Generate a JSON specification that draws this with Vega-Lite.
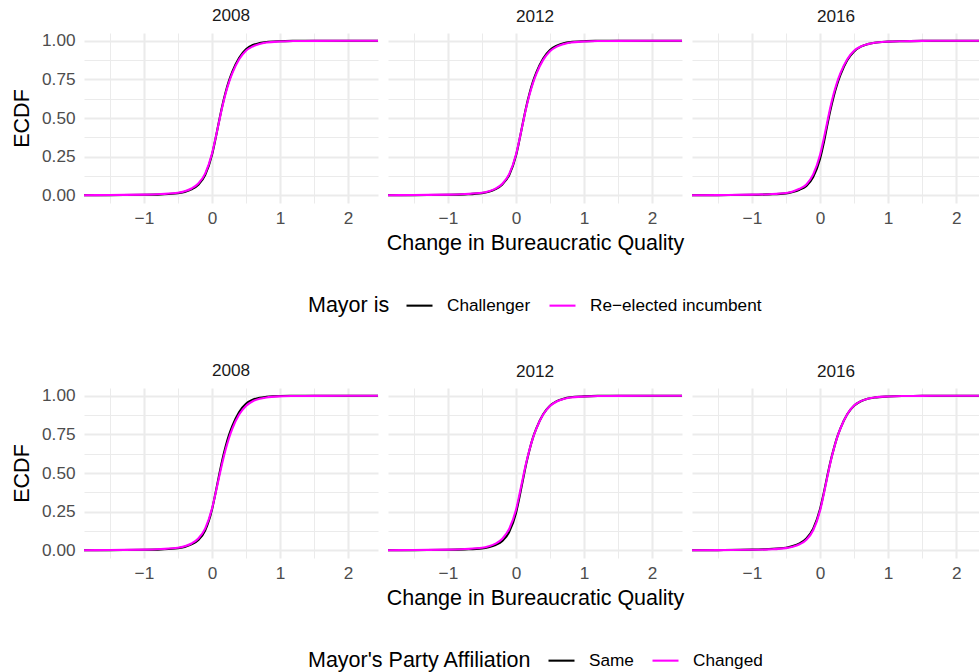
{
  "$schema": "https://vega.github.io/schema/vega-lite/v6.json",
  "background": "white",
  "padding": {"left": 11, "top": 6, "right": 0, "bottom": 0},
  "autosize": {"type": "pad"},
  "config": {
    "font": "Liberation Sans",
    "view": {"stroke": null},
    "title": {"fontSize": 17.2, "fontWeight": "normal", "color": "#1A1A1A", "offset": 8, "anchor": "middle", "frame": "group"},
    "axis": {"domain": false, "ticks": false, "labelColor": "#4D4D4D", "labelFontSize": 17.2, "titleFontSize": 21.5, "titleColor": "black", "titleFontWeight": "normal", "gridColor": "#EBEBEB", "labelPadding": 6, "labelFlush": false, "labelOverlap": false},
    "legend": {"orient": "bottom", "direction": "horizontal", "titleOrient": "left", "titleAnchor": "middle", "titleBaseline": "line-top", "titleLineHeight": 8, "titleFontSize": 21.5, "titleFontWeight": "normal", "titleColor": "black", "labelFontSize": 17.2, "labelColor": "black", "labelLimit": 1000, "titleLimit": 1000, "symbolType": "stroke", "symbolSize": 676, "symbolStrokeWidth": 2.1, "labelOffset": 13, "columnPadding": 14, "titlePadding": 15, "offset": 37, "layout": {"bottom": {"anchor": "middle"}}}
  },
  "datasets": {
    "d": [
      {"panel":"mayor","year":2008,"group":"Challenger","x":-1.88,"ecdf":0},
      {"panel":"mayor","year":2008,"group":"Challenger","x":-1.5,"ecdf":0.001},
      {"panel":"mayor","year":2008,"group":"Challenger","x":-1,"ecdf":0.003},
      {"panel":"mayor","year":2008,"group":"Challenger","x":-0.75,"ecdf":0.006},
      {"panel":"mayor","year":2008,"group":"Challenger","x":-0.5,"ecdf":0.013},
      {"panel":"mayor","year":2008,"group":"Challenger","x":-0.4,"ecdf":0.022},
      {"panel":"mayor","year":2008,"group":"Challenger","x":-0.3,"ecdf":0.038},
      {"panel":"mayor","year":2008,"group":"Challenger","x":-0.2,"ecdf":0.068},
      {"panel":"mayor","year":2008,"group":"Challenger","x":-0.1,"ecdf":0.13},
      {"panel":"mayor","year":2008,"group":"Challenger","x":0,"ecdf":0.26},
      {"panel":"mayor","year":2008,"group":"Challenger","x":0.05,"ecdf":0.36},
      {"panel":"mayor","year":2008,"group":"Challenger","x":0.1,"ecdf":0.47},
      {"panel":"mayor","year":2008,"group":"Challenger","x":0.15,"ecdf":0.575},
      {"panel":"mayor","year":2008,"group":"Challenger","x":0.2,"ecdf":0.665},
      {"panel":"mayor","year":2008,"group":"Challenger","x":0.25,"ecdf":0.74},
      {"panel":"mayor","year":2008,"group":"Challenger","x":0.3,"ecdf":0.8},
      {"panel":"mayor","year":2008,"group":"Challenger","x":0.4,"ecdf":0.89},
      {"panel":"mayor","year":2008,"group":"Challenger","x":0.5,"ecdf":0.945},
      {"panel":"mayor","year":2008,"group":"Challenger","x":0.6,"ecdf":0.972},
      {"panel":"mayor","year":2008,"group":"Challenger","x":0.7,"ecdf":0.985},
      {"panel":"mayor","year":2008,"group":"Challenger","x":0.8,"ecdf":0.992},
      {"panel":"mayor","year":2008,"group":"Challenger","x":1,"ecdf":0.997},
      {"panel":"mayor","year":2008,"group":"Challenger","x":1.2,"ecdf":0.999},
      {"panel":"mayor","year":2008,"group":"Challenger","x":1.5,"ecdf":1},
      {"panel":"mayor","year":2008,"group":"Challenger","x":2,"ecdf":1},
      {"panel":"mayor","year":2008,"group":"Challenger","x":2.44,"ecdf":1},
      {"panel":"mayor","year":2008,"group":"Re−elected incumbent","x":-1.88,"ecdf":0},
      {"panel":"mayor","year":2008,"group":"Re−elected incumbent","x":-1.5,"ecdf":0.002},
      {"panel":"mayor","year":2008,"group":"Re−elected incumbent","x":-1,"ecdf":0.004},
      {"panel":"mayor","year":2008,"group":"Re−elected incumbent","x":-0.75,"ecdf":0.008},
      {"panel":"mayor","year":2008,"group":"Re−elected incumbent","x":-0.5,"ecdf":0.016},
      {"panel":"mayor","year":2008,"group":"Re−elected incumbent","x":-0.4,"ecdf":0.026},
      {"panel":"mayor","year":2008,"group":"Re−elected incumbent","x":-0.3,"ecdf":0.044},
      {"panel":"mayor","year":2008,"group":"Re−elected incumbent","x":-0.2,"ecdf":0.076},
      {"panel":"mayor","year":2008,"group":"Re−elected incumbent","x":-0.1,"ecdf":0.14},
      {"panel":"mayor","year":2008,"group":"Re−elected incumbent","x":0,"ecdf":0.268},
      {"panel":"mayor","year":2008,"group":"Re−elected incumbent","x":0.05,"ecdf":0.364},
      {"panel":"mayor","year":2008,"group":"Re−elected incumbent","x":0.1,"ecdf":0.467},
      {"panel":"mayor","year":2008,"group":"Re−elected incumbent","x":0.15,"ecdf":0.568},
      {"panel":"mayor","year":2008,"group":"Re−elected incumbent","x":0.2,"ecdf":0.657},
      {"panel":"mayor","year":2008,"group":"Re−elected incumbent","x":0.25,"ecdf":0.73},
      {"panel":"mayor","year":2008,"group":"Re−elected incumbent","x":0.3,"ecdf":0.79},
      {"panel":"mayor","year":2008,"group":"Re−elected incumbent","x":0.4,"ecdf":0.88},
      {"panel":"mayor","year":2008,"group":"Re−elected incumbent","x":0.5,"ecdf":0.935},
      {"panel":"mayor","year":2008,"group":"Re−elected incumbent","x":0.6,"ecdf":0.963},
      {"panel":"mayor","year":2008,"group":"Re−elected incumbent","x":0.7,"ecdf":0.979},
      {"panel":"mayor","year":2008,"group":"Re−elected incumbent","x":0.8,"ecdf":0.988},
      {"panel":"mayor","year":2008,"group":"Re−elected incumbent","x":1,"ecdf":0.995},
      {"panel":"mayor","year":2008,"group":"Re−elected incumbent","x":1.2,"ecdf":0.998},
      {"panel":"mayor","year":2008,"group":"Re−elected incumbent","x":1.5,"ecdf":0.999},
      {"panel":"mayor","year":2008,"group":"Re−elected incumbent","x":2,"ecdf":1},
      {"panel":"mayor","year":2008,"group":"Re−elected incumbent","x":2.44,"ecdf":1},

      {"panel":"mayor","year":2012,"group":"Challenger","x":-1.88,"ecdf":0},
      {"panel":"mayor","year":2012,"group":"Challenger","x":-1.5,"ecdf":0.001},
      {"panel":"mayor","year":2012,"group":"Challenger","x":-1,"ecdf":0.003},
      {"panel":"mayor","year":2012,"group":"Challenger","x":-0.75,"ecdf":0.006},
      {"panel":"mayor","year":2012,"group":"Challenger","x":-0.5,"ecdf":0.014},
      {"panel":"mayor","year":2012,"group":"Challenger","x":-0.4,"ecdf":0.023},
      {"panel":"mayor","year":2012,"group":"Challenger","x":-0.3,"ecdf":0.04},
      {"panel":"mayor","year":2012,"group":"Challenger","x":-0.2,"ecdf":0.07},
      {"panel":"mayor","year":2012,"group":"Challenger","x":-0.1,"ecdf":0.13},
      {"panel":"mayor","year":2012,"group":"Challenger","x":0,"ecdf":0.255},
      {"panel":"mayor","year":2012,"group":"Challenger","x":0.05,"ecdf":0.355},
      {"panel":"mayor","year":2012,"group":"Challenger","x":0.1,"ecdf":0.465},
      {"panel":"mayor","year":2012,"group":"Challenger","x":0.15,"ecdf":0.57},
      {"panel":"mayor","year":2012,"group":"Challenger","x":0.2,"ecdf":0.66},
      {"panel":"mayor","year":2012,"group":"Challenger","x":0.25,"ecdf":0.735},
      {"panel":"mayor","year":2012,"group":"Challenger","x":0.3,"ecdf":0.795},
      {"panel":"mayor","year":2012,"group":"Challenger","x":0.4,"ecdf":0.885},
      {"panel":"mayor","year":2012,"group":"Challenger","x":0.5,"ecdf":0.94},
      {"panel":"mayor","year":2012,"group":"Challenger","x":0.6,"ecdf":0.968},
      {"panel":"mayor","year":2012,"group":"Challenger","x":0.7,"ecdf":0.983},
      {"panel":"mayor","year":2012,"group":"Challenger","x":0.8,"ecdf":0.991},
      {"panel":"mayor","year":2012,"group":"Challenger","x":1,"ecdf":0.997},
      {"panel":"mayor","year":2012,"group":"Challenger","x":1.2,"ecdf":0.999},
      {"panel":"mayor","year":2012,"group":"Challenger","x":1.5,"ecdf":1},
      {"panel":"mayor","year":2012,"group":"Challenger","x":2,"ecdf":1},
      {"panel":"mayor","year":2012,"group":"Challenger","x":2.44,"ecdf":1},
      {"panel":"mayor","year":2012,"group":"Re−elected incumbent","x":-1.88,"ecdf":0},
      {"panel":"mayor","year":2012,"group":"Re−elected incumbent","x":-1.5,"ecdf":0.002},
      {"panel":"mayor","year":2012,"group":"Re−elected incumbent","x":-1,"ecdf":0.004},
      {"panel":"mayor","year":2012,"group":"Re−elected incumbent","x":-0.75,"ecdf":0.008},
      {"panel":"mayor","year":2012,"group":"Re−elected incumbent","x":-0.5,"ecdf":0.016},
      {"panel":"mayor","year":2012,"group":"Re−elected incumbent","x":-0.4,"ecdf":0.026},
      {"panel":"mayor","year":2012,"group":"Re−elected incumbent","x":-0.3,"ecdf":0.043},
      {"panel":"mayor","year":2012,"group":"Re−elected incumbent","x":-0.2,"ecdf":0.075},
      {"panel":"mayor","year":2012,"group":"Re−elected incumbent","x":-0.1,"ecdf":0.137},
      {"panel":"mayor","year":2012,"group":"Re−elected incumbent","x":0,"ecdf":0.262},
      {"panel":"mayor","year":2012,"group":"Re−elected incumbent","x":0.05,"ecdf":0.358},
      {"panel":"mayor","year":2012,"group":"Re−elected incumbent","x":0.1,"ecdf":0.462},
      {"panel":"mayor","year":2012,"group":"Re−elected incumbent","x":0.15,"ecdf":0.564},
      {"panel":"mayor","year":2012,"group":"Re−elected incumbent","x":0.2,"ecdf":0.652},
      {"panel":"mayor","year":2012,"group":"Re−elected incumbent","x":0.25,"ecdf":0.726},
      {"panel":"mayor","year":2012,"group":"Re−elected incumbent","x":0.3,"ecdf":0.786},
      {"panel":"mayor","year":2012,"group":"Re−elected incumbent","x":0.4,"ecdf":0.876},
      {"panel":"mayor","year":2012,"group":"Re−elected incumbent","x":0.5,"ecdf":0.932},
      {"panel":"mayor","year":2012,"group":"Re−elected incumbent","x":0.6,"ecdf":0.962},
      {"panel":"mayor","year":2012,"group":"Re−elected incumbent","x":0.7,"ecdf":0.978},
      {"panel":"mayor","year":2012,"group":"Re−elected incumbent","x":0.8,"ecdf":0.988},
      {"panel":"mayor","year":2012,"group":"Re−elected incumbent","x":1,"ecdf":0.995},
      {"panel":"mayor","year":2012,"group":"Re−elected incumbent","x":1.2,"ecdf":0.998},
      {"panel":"mayor","year":2012,"group":"Re−elected incumbent","x":1.5,"ecdf":0.999},
      {"panel":"mayor","year":2012,"group":"Re−elected incumbent","x":2,"ecdf":1},
      {"panel":"mayor","year":2012,"group":"Re−elected incumbent","x":2.44,"ecdf":1},

      {"panel":"mayor","year":2016,"group":"Challenger","x":-1.88,"ecdf":0},
      {"panel":"mayor","year":2016,"group":"Challenger","x":-1.5,"ecdf":0.001},
      {"panel":"mayor","year":2016,"group":"Challenger","x":-1,"ecdf":0.003},
      {"panel":"mayor","year":2016,"group":"Challenger","x":-0.75,"ecdf":0.006},
      {"panel":"mayor","year":2016,"group":"Challenger","x":-0.5,"ecdf":0.012},
      {"panel":"mayor","year":2016,"group":"Challenger","x":-0.4,"ecdf":0.021},
      {"panel":"mayor","year":2016,"group":"Challenger","x":-0.3,"ecdf":0.036},
      {"panel":"mayor","year":2016,"group":"Challenger","x":-0.2,"ecdf":0.06},
      {"panel":"mayor","year":2016,"group":"Challenger","x":-0.1,"ecdf":0.118},
      {"panel":"mayor","year":2016,"group":"Challenger","x":0,"ecdf":0.235},
      {"panel":"mayor","year":2016,"group":"Challenger","x":0.05,"ecdf":0.328},
      {"panel":"mayor","year":2016,"group":"Challenger","x":0.1,"ecdf":0.438},
      {"panel":"mayor","year":2016,"group":"Challenger","x":0.15,"ecdf":0.545},
      {"panel":"mayor","year":2016,"group":"Challenger","x":0.2,"ecdf":0.638},
      {"panel":"mayor","year":2016,"group":"Challenger","x":0.25,"ecdf":0.716},
      {"panel":"mayor","year":2016,"group":"Challenger","x":0.3,"ecdf":0.779},
      {"panel":"mayor","year":2016,"group":"Challenger","x":0.4,"ecdf":0.874},
      {"panel":"mayor","year":2016,"group":"Challenger","x":0.5,"ecdf":0.931},
      {"panel":"mayor","year":2016,"group":"Challenger","x":0.6,"ecdf":0.962},
      {"panel":"mayor","year":2016,"group":"Challenger","x":0.7,"ecdf":0.978},
      {"panel":"mayor","year":2016,"group":"Challenger","x":0.8,"ecdf":0.987},
      {"panel":"mayor","year":2016,"group":"Challenger","x":1,"ecdf":0.994},
      {"panel":"mayor","year":2016,"group":"Challenger","x":1.2,"ecdf":0.997},
      {"panel":"mayor","year":2016,"group":"Challenger","x":1.5,"ecdf":0.999},
      {"panel":"mayor","year":2016,"group":"Challenger","x":2,"ecdf":1},
      {"panel":"mayor","year":2016,"group":"Challenger","x":2.44,"ecdf":1},
      {"panel":"mayor","year":2016,"group":"Re−elected incumbent","x":-1.88,"ecdf":0},
      {"panel":"mayor","year":2016,"group":"Re−elected incumbent","x":-1.5,"ecdf":0.001},
      {"panel":"mayor","year":2016,"group":"Re−elected incumbent","x":-1,"ecdf":0.004},
      {"panel":"mayor","year":2016,"group":"Re−elected incumbent","x":-0.75,"ecdf":0.007},
      {"panel":"mayor","year":2016,"group":"Re−elected incumbent","x":-0.5,"ecdf":0.015},
      {"panel":"mayor","year":2016,"group":"Re−elected incumbent","x":-0.4,"ecdf":0.025},
      {"panel":"mayor","year":2016,"group":"Re−elected incumbent","x":-0.3,"ecdf":0.042},
      {"panel":"mayor","year":2016,"group":"Re−elected incumbent","x":-0.2,"ecdf":0.07},
      {"panel":"mayor","year":2016,"group":"Re−elected incumbent","x":-0.1,"ecdf":0.135},
      {"panel":"mayor","year":2016,"group":"Re−elected incumbent","x":0,"ecdf":0.26},
      {"panel":"mayor","year":2016,"group":"Re−elected incumbent","x":0.05,"ecdf":0.355},
      {"panel":"mayor","year":2016,"group":"Re−elected incumbent","x":0.1,"ecdf":0.46},
      {"panel":"mayor","year":2016,"group":"Re−elected incumbent","x":0.15,"ecdf":0.565},
      {"panel":"mayor","year":2016,"group":"Re−elected incumbent","x":0.2,"ecdf":0.655},
      {"panel":"mayor","year":2016,"group":"Re−elected incumbent","x":0.25,"ecdf":0.73},
      {"panel":"mayor","year":2016,"group":"Re−elected incumbent","x":0.3,"ecdf":0.79},
      {"panel":"mayor","year":2016,"group":"Re−elected incumbent","x":0.4,"ecdf":0.88},
      {"panel":"mayor","year":2016,"group":"Re−elected incumbent","x":0.5,"ecdf":0.935},
      {"panel":"mayor","year":2016,"group":"Re−elected incumbent","x":0.6,"ecdf":0.963},
      {"panel":"mayor","year":2016,"group":"Re−elected incumbent","x":0.7,"ecdf":0.978},
      {"panel":"mayor","year":2016,"group":"Re−elected incumbent","x":0.8,"ecdf":0.987},
      {"panel":"mayor","year":2016,"group":"Re−elected incumbent","x":1,"ecdf":0.994},
      {"panel":"mayor","year":2016,"group":"Re−elected incumbent","x":1.2,"ecdf":0.997},
      {"panel":"mayor","year":2016,"group":"Re−elected incumbent","x":1.5,"ecdf":0.999},
      {"panel":"mayor","year":2016,"group":"Re−elected incumbent","x":2,"ecdf":1},
      {"panel":"mayor","year":2016,"group":"Re−elected incumbent","x":2.44,"ecdf":1},

      {"panel":"party","year":2008,"group":"Same","x":-1.88,"ecdf":0},
      {"panel":"party","year":2008,"group":"Same","x":-1.5,"ecdf":0.001},
      {"panel":"party","year":2008,"group":"Same","x":-1,"ecdf":0.003},
      {"panel":"party","year":2008,"group":"Same","x":-0.75,"ecdf":0.006},
      {"panel":"party","year":2008,"group":"Same","x":-0.5,"ecdf":0.013},
      {"panel":"party","year":2008,"group":"Same","x":-0.4,"ecdf":0.022},
      {"panel":"party","year":2008,"group":"Same","x":-0.3,"ecdf":0.038},
      {"panel":"party","year":2008,"group":"Same","x":-0.2,"ecdf":0.066},
      {"panel":"party","year":2008,"group":"Same","x":-0.1,"ecdf":0.128},
      {"panel":"party","year":2008,"group":"Same","x":0,"ecdf":0.262},
      {"panel":"party","year":2008,"group":"Same","x":0.05,"ecdf":0.365},
      {"panel":"party","year":2008,"group":"Same","x":0.1,"ecdf":0.475},
      {"panel":"party","year":2008,"group":"Same","x":0.15,"ecdf":0.58},
      {"panel":"party","year":2008,"group":"Same","x":0.2,"ecdf":0.67},
      {"panel":"party","year":2008,"group":"Same","x":0.25,"ecdf":0.745},
      {"panel":"party","year":2008,"group":"Same","x":0.3,"ecdf":0.805},
      {"panel":"party","year":2008,"group":"Same","x":0.4,"ecdf":0.895},
      {"panel":"party","year":2008,"group":"Same","x":0.5,"ecdf":0.948},
      {"panel":"party","year":2008,"group":"Same","x":0.6,"ecdf":0.974},
      {"panel":"party","year":2008,"group":"Same","x":0.7,"ecdf":0.987},
      {"panel":"party","year":2008,"group":"Same","x":0.8,"ecdf":0.993},
      {"panel":"party","year":2008,"group":"Same","x":1,"ecdf":0.998},
      {"panel":"party","year":2008,"group":"Same","x":1.2,"ecdf":0.999},
      {"panel":"party","year":2008,"group":"Same","x":1.5,"ecdf":1},
      {"panel":"party","year":2008,"group":"Same","x":2,"ecdf":1},
      {"panel":"party","year":2008,"group":"Same","x":2.44,"ecdf":1},
      {"panel":"party","year":2008,"group":"Changed","x":-1.88,"ecdf":0},
      {"panel":"party","year":2008,"group":"Changed","x":-1.5,"ecdf":0.002},
      {"panel":"party","year":2008,"group":"Changed","x":-1,"ecdf":0.004},
      {"panel":"party","year":2008,"group":"Changed","x":-0.75,"ecdf":0.008},
      {"panel":"party","year":2008,"group":"Changed","x":-0.5,"ecdf":0.016},
      {"panel":"party","year":2008,"group":"Changed","x":-0.4,"ecdf":0.026},
      {"panel":"party","year":2008,"group":"Changed","x":-0.3,"ecdf":0.044},
      {"panel":"party","year":2008,"group":"Changed","x":-0.2,"ecdf":0.076},
      {"panel":"party","year":2008,"group":"Changed","x":-0.1,"ecdf":0.14},
      {"panel":"party","year":2008,"group":"Changed","x":0,"ecdf":0.268},
      {"panel":"party","year":2008,"group":"Changed","x":0.05,"ecdf":0.363},
      {"panel":"party","year":2008,"group":"Changed","x":0.1,"ecdf":0.463},
      {"panel":"party","year":2008,"group":"Changed","x":0.15,"ecdf":0.562},
      {"panel":"party","year":2008,"group":"Changed","x":0.2,"ecdf":0.65},
      {"panel":"party","year":2008,"group":"Changed","x":0.25,"ecdf":0.725},
      {"panel":"party","year":2008,"group":"Changed","x":0.3,"ecdf":0.787},
      {"panel":"party","year":2008,"group":"Changed","x":0.4,"ecdf":0.878},
      {"panel":"party","year":2008,"group":"Changed","x":0.5,"ecdf":0.934},
      {"panel":"party","year":2008,"group":"Changed","x":0.6,"ecdf":0.964},
      {"panel":"party","year":2008,"group":"Changed","x":0.7,"ecdf":0.98},
      {"panel":"party","year":2008,"group":"Changed","x":0.8,"ecdf":0.989},
      {"panel":"party","year":2008,"group":"Changed","x":1,"ecdf":0.996},
      {"panel":"party","year":2008,"group":"Changed","x":1.2,"ecdf":0.998},
      {"panel":"party","year":2008,"group":"Changed","x":1.5,"ecdf":0.999},
      {"panel":"party","year":2008,"group":"Changed","x":2,"ecdf":1},
      {"panel":"party","year":2008,"group":"Changed","x":2.44,"ecdf":1},

      {"panel":"party","year":2012,"group":"Same","x":-1.88,"ecdf":0},
      {"panel":"party","year":2012,"group":"Same","x":-1.5,"ecdf":0.001},
      {"panel":"party","year":2012,"group":"Same","x":-1,"ecdf":0.003},
      {"panel":"party","year":2012,"group":"Same","x":-0.75,"ecdf":0.006},
      {"panel":"party","year":2012,"group":"Same","x":-0.5,"ecdf":0.012},
      {"panel":"party","year":2012,"group":"Same","x":-0.4,"ecdf":0.02},
      {"panel":"party","year":2012,"group":"Same","x":-0.3,"ecdf":0.034},
      {"panel":"party","year":2012,"group":"Same","x":-0.2,"ecdf":0.06},
      {"panel":"party","year":2012,"group":"Same","x":-0.1,"ecdf":0.118},
      {"panel":"party","year":2012,"group":"Same","x":0,"ecdf":0.24},
      {"panel":"party","year":2012,"group":"Same","x":0.05,"ecdf":0.34},
      {"panel":"party","year":2012,"group":"Same","x":0.1,"ecdf":0.45},
      {"panel":"party","year":2012,"group":"Same","x":0.15,"ecdf":0.558},
      {"panel":"party","year":2012,"group":"Same","x":0.2,"ecdf":0.651},
      {"panel":"party","year":2012,"group":"Same","x":0.25,"ecdf":0.729},
      {"panel":"party","year":2012,"group":"Same","x":0.3,"ecdf":0.789},
      {"panel":"party","year":2012,"group":"Same","x":0.4,"ecdf":0.88},
      {"panel":"party","year":2012,"group":"Same","x":0.5,"ecdf":0.935},
      {"panel":"party","year":2012,"group":"Same","x":0.6,"ecdf":0.965},
      {"panel":"party","year":2012,"group":"Same","x":0.7,"ecdf":0.981},
      {"panel":"party","year":2012,"group":"Same","x":0.8,"ecdf":0.99},
      {"panel":"party","year":2012,"group":"Same","x":1,"ecdf":0.996},
      {"panel":"party","year":2012,"group":"Same","x":1.2,"ecdf":0.999},
      {"panel":"party","year":2012,"group":"Same","x":1.5,"ecdf":1},
      {"panel":"party","year":2012,"group":"Same","x":2,"ecdf":1},
      {"panel":"party","year":2012,"group":"Same","x":2.44,"ecdf":1},
      {"panel":"party","year":2012,"group":"Changed","x":-1.88,"ecdf":0},
      {"panel":"party","year":2012,"group":"Changed","x":-1.5,"ecdf":0.002},
      {"panel":"party","year":2012,"group":"Changed","x":-1,"ecdf":0.004},
      {"panel":"party","year":2012,"group":"Changed","x":-0.75,"ecdf":0.008},
      {"panel":"party","year":2012,"group":"Changed","x":-0.5,"ecdf":0.016},
      {"panel":"party","year":2012,"group":"Changed","x":-0.4,"ecdf":0.026},
      {"panel":"party","year":2012,"group":"Changed","x":-0.3,"ecdf":0.043},
      {"panel":"party","year":2012,"group":"Changed","x":-0.2,"ecdf":0.075},
      {"panel":"party","year":2012,"group":"Changed","x":-0.1,"ecdf":0.138},
      {"panel":"party","year":2012,"group":"Changed","x":0,"ecdf":0.26},
      {"panel":"party","year":2012,"group":"Changed","x":0.05,"ecdf":0.358},
      {"panel":"party","year":2012,"group":"Changed","x":0.1,"ecdf":0.463},
      {"panel":"party","year":2012,"group":"Changed","x":0.15,"ecdf":0.565},
      {"panel":"party","year":2012,"group":"Changed","x":0.2,"ecdf":0.652},
      {"panel":"party","year":2012,"group":"Changed","x":0.25,"ecdf":0.727},
      {"panel":"party","year":2012,"group":"Changed","x":0.3,"ecdf":0.787},
      {"panel":"party","year":2012,"group":"Changed","x":0.4,"ecdf":0.878},
      {"panel":"party","year":2012,"group":"Changed","x":0.5,"ecdf":0.933},
      {"panel":"party","year":2012,"group":"Changed","x":0.6,"ecdf":0.963},
      {"panel":"party","year":2012,"group":"Changed","x":0.7,"ecdf":0.979},
      {"panel":"party","year":2012,"group":"Changed","x":0.8,"ecdf":0.988},
      {"panel":"party","year":2012,"group":"Changed","x":1,"ecdf":0.995},
      {"panel":"party","year":2012,"group":"Changed","x":1.2,"ecdf":0.998},
      {"panel":"party","year":2012,"group":"Changed","x":1.5,"ecdf":0.999},
      {"panel":"party","year":2012,"group":"Changed","x":2,"ecdf":1},
      {"panel":"party","year":2012,"group":"Changed","x":2.44,"ecdf":1},

      {"panel":"party","year":2016,"group":"Same","x":-1.88,"ecdf":0},
      {"panel":"party","year":2016,"group":"Same","x":-1.5,"ecdf":0.001},
      {"panel":"party","year":2016,"group":"Same","x":-1,"ecdf":0.004},
      {"panel":"party","year":2016,"group":"Same","x":-0.75,"ecdf":0.008},
      {"panel":"party","year":2016,"group":"Same","x":-0.5,"ecdf":0.016},
      {"panel":"party","year":2016,"group":"Same","x":-0.4,"ecdf":0.027},
      {"panel":"party","year":2016,"group":"Same","x":-0.3,"ecdf":0.045},
      {"panel":"party","year":2016,"group":"Same","x":-0.2,"ecdf":0.077},
      {"panel":"party","year":2016,"group":"Same","x":-0.1,"ecdf":0.14},
      {"panel":"party","year":2016,"group":"Same","x":0,"ecdf":0.265},
      {"panel":"party","year":2016,"group":"Same","x":0.05,"ecdf":0.36},
      {"panel":"party","year":2016,"group":"Same","x":0.1,"ecdf":0.465},
      {"panel":"party","year":2016,"group":"Same","x":0.15,"ecdf":0.567},
      {"panel":"party","year":2016,"group":"Same","x":0.2,"ecdf":0.653},
      {"panel":"party","year":2016,"group":"Same","x":0.25,"ecdf":0.729},
      {"panel":"party","year":2016,"group":"Same","x":0.3,"ecdf":0.789},
      {"panel":"party","year":2016,"group":"Same","x":0.4,"ecdf":0.88},
      {"panel":"party","year":2016,"group":"Same","x":0.5,"ecdf":0.935},
      {"panel":"party","year":2016,"group":"Same","x":0.6,"ecdf":0.964},
      {"panel":"party","year":2016,"group":"Same","x":0.7,"ecdf":0.98},
      {"panel":"party","year":2016,"group":"Same","x":0.8,"ecdf":0.988},
      {"panel":"party","year":2016,"group":"Same","x":1,"ecdf":0.995},
      {"panel":"party","year":2016,"group":"Same","x":1.2,"ecdf":0.998},
      {"panel":"party","year":2016,"group":"Same","x":1.5,"ecdf":0.999},
      {"panel":"party","year":2016,"group":"Same","x":2,"ecdf":1},
      {"panel":"party","year":2016,"group":"Same","x":2.44,"ecdf":1},
      {"panel":"party","year":2016,"group":"Changed","x":-1.88,"ecdf":0},
      {"panel":"party","year":2016,"group":"Changed","x":-1.5,"ecdf":0.001},
      {"panel":"party","year":2016,"group":"Changed","x":-1,"ecdf":0.003},
      {"panel":"party","year":2016,"group":"Changed","x":-0.75,"ecdf":0.006},
      {"panel":"party","year":2016,"group":"Changed","x":-0.5,"ecdf":0.014},
      {"panel":"party","year":2016,"group":"Changed","x":-0.4,"ecdf":0.023},
      {"panel":"party","year":2016,"group":"Changed","x":-0.3,"ecdf":0.039},
      {"panel":"party","year":2016,"group":"Changed","x":-0.2,"ecdf":0.068},
      {"panel":"party","year":2016,"group":"Changed","x":-0.1,"ecdf":0.13},
      {"panel":"party","year":2016,"group":"Changed","x":0,"ecdf":0.255},
      {"panel":"party","year":2016,"group":"Changed","x":0.05,"ecdf":0.352},
      {"panel":"party","year":2016,"group":"Changed","x":0.1,"ecdf":0.458},
      {"panel":"party","year":2016,"group":"Changed","x":0.15,"ecdf":0.562},
      {"panel":"party","year":2016,"group":"Changed","x":0.2,"ecdf":0.65},
      {"panel":"party","year":2016,"group":"Changed","x":0.25,"ecdf":0.727},
      {"panel":"party","year":2016,"group":"Changed","x":0.3,"ecdf":0.788},
      {"panel":"party","year":2016,"group":"Changed","x":0.4,"ecdf":0.88},
      {"panel":"party","year":2016,"group":"Changed","x":0.5,"ecdf":0.936},
      {"panel":"party","year":2016,"group":"Changed","x":0.6,"ecdf":0.965},
      {"panel":"party","year":2016,"group":"Changed","x":0.7,"ecdf":0.98},
      {"panel":"party","year":2016,"group":"Changed","x":0.8,"ecdf":0.989},
      {"panel":"party","year":2016,"group":"Changed","x":1,"ecdf":0.995},
      {"panel":"party","year":2016,"group":"Changed","x":1.2,"ecdf":0.998},
      {"panel":"party","year":2016,"group":"Changed","x":1.5,"ecdf":0.999},
      {"panel":"party","year":2016,"group":"Changed","x":2,"ecdf":1},
      {"panel":"party","year":2016,"group":"Changed","x":2.44,"ecdf":1}
    ]
  },
  "resolve": {"scale": {"color": "independent"}},
  "spacing": 44,
  "vconcat": [
    {
      "spacing": 10,
      "bounds": "flush",
      "resolve": {"legend": {"color": "independent"}},
      "hconcat": [
        {
          "width": 294, "height": 170, "title": "2008",
          "data": {"name": "d"},
          "transform": [{"filter": "datum.panel === 'mayor' && datum.year === 2008"}],
          "mark": {"type": "line", "strokeWidth": 2.1, "interpolate": "monotone", "clip": true},
          "encoding": {
            "x": {"field": "x", "type": "quantitative", "scale": {"domain": [-1.88, 2.44], "nice": false, "zero": false},
              "axis": {"title": null, "values": [-1.5, -1, -0.5, 0, 0.5, 1, 1.5, 2], "labelExpr": "datum.value % 1 === 0 ? format(datum.value, 'd') : ''", "gridWidth": {"condition": {"test": "datum.value % 1 === 0", "value": 2.1}, "value": 1.05}}},
            "y": {"field": "ecdf", "type": "quantitative", "scale": {"domain": [-0.05, 1.05], "nice": false},
              "axis": {"title": "ECDF", "labelPadding": 9, "titlePadding": 8, "values": [0, 0.125, 0.25, 0.375, 0.5, 0.625, 0.75, 0.875, 1], "labelExpr": "(datum.value * 8) % 2 === 0 ? format(datum.value, '.2f') : ''", "gridWidth": {"condition": {"test": "(datum.value * 8) % 2 === 0", "value": 2.1}, "value": 1.05}}},
            "color": {"field": "group", "type": "nominal", "scale": {"domain": ["Challenger", "Re−elected incumbent"], "range": ["#000000", "#FF00FF"]}, "legend": null}
          }
        },
        {
          "width": 294, "height": 170, "title": "2012",
          "data": {"name": "d"},
          "transform": [{"filter": "datum.panel === 'mayor' && datum.year === 2012"}],
          "mark": {"type": "line", "strokeWidth": 2.1, "interpolate": "monotone", "clip": true},
          "encoding": {
            "x": {"field": "x", "type": "quantitative", "scale": {"domain": [-1.88, 2.44], "nice": false, "zero": false},
              "axis": {"title": "Change in Bureaucratic Quality", "titlePadding": 6, "values": [-1.5, -1, -0.5, 0, 0.5, 1, 1.5, 2], "labelExpr": "datum.value % 1 === 0 ? format(datum.value, 'd') : ''", "gridWidth": {"condition": {"test": "datum.value % 1 === 0", "value": 2.1}, "value": 1.05}}},
            "y": {"field": "ecdf", "type": "quantitative", "scale": {"domain": [-0.05, 1.05], "nice": false},
              "axis": {"title": null, "labels": false, "values": [0, 0.125, 0.25, 0.375, 0.5, 0.625, 0.75, 0.875, 1], "gridWidth": {"condition": {"test": "(datum.value * 8) % 2 === 0", "value": 2.1}, "value": 1.05}}},
            "color": {"field": "group", "type": "nominal", "scale": {"domain": ["Challenger", "Re−elected incumbent"], "range": ["#000000", "#FF00FF"]}, "legend": {"title": "Mayor is"}}
          }
        },
        {
          "width": 288, "height": 170, "title": "2016",
          "data": {"name": "d"},
          "transform": [{"filter": "datum.panel === 'mayor' && datum.year === 2016"}],
          "mark": {"type": "line", "strokeWidth": 2.1, "interpolate": "monotone", "clip": true},
          "encoding": {
            "x": {"field": "x", "type": "quantitative", "scale": {"domain": [-1.88, 2.35], "nice": false, "zero": false},
              "axis": {"title": null, "values": [-1.5, -1, -0.5, 0, 0.5, 1, 1.5, 2], "labelExpr": "datum.value % 1 === 0 ? format(datum.value, 'd') : ''", "gridWidth": {"condition": {"test": "datum.value % 1 === 0", "value": 2.1}, "value": 1.05}}},
            "y": {"field": "ecdf", "type": "quantitative", "scale": {"domain": [-0.05, 1.05], "nice": false},
              "axis": {"title": null, "labels": false, "values": [0, 0.125, 0.25, 0.375, 0.5, 0.625, 0.75, 0.875, 1], "gridWidth": {"condition": {"test": "(datum.value * 8) % 2 === 0", "value": 2.1}, "value": 1.05}}},
            "color": {"field": "group", "type": "nominal", "scale": {"domain": ["Challenger", "Re−elected incumbent"], "range": ["#000000", "#FF00FF"]}, "legend": null}
          }
        }
      ]
    },
    {
      "spacing": 10,
      "bounds": "flush",
      "resolve": {"legend": {"color": "independent"}},
      "hconcat": [
        {
          "width": 294, "height": 170, "title": "2008",
          "data": {"name": "d"},
          "transform": [{"filter": "datum.panel === 'party' && datum.year === 2008"}],
          "mark": {"type": "line", "strokeWidth": 2.1, "interpolate": "monotone", "clip": true},
          "encoding": {
            "x": {"field": "x", "type": "quantitative", "scale": {"domain": [-1.88, 2.44], "nice": false, "zero": false},
              "axis": {"title": null, "values": [-1.5, -1, -0.5, 0, 0.5, 1, 1.5, 2], "labelExpr": "datum.value % 1 === 0 ? format(datum.value, 'd') : ''", "gridWidth": {"condition": {"test": "datum.value % 1 === 0", "value": 2.1}, "value": 1.05}}},
            "y": {"field": "ecdf", "type": "quantitative", "scale": {"domain": [-0.05, 1.05], "nice": false},
              "axis": {"title": "ECDF", "labelPadding": 9, "titlePadding": 8, "values": [0, 0.125, 0.25, 0.375, 0.5, 0.625, 0.75, 0.875, 1], "labelExpr": "(datum.value * 8) % 2 === 0 ? format(datum.value, '.2f') : ''", "gridWidth": {"condition": {"test": "(datum.value * 8) % 2 === 0", "value": 2.1}, "value": 1.05}}},
            "color": {"field": "group", "type": "nominal", "scale": {"domain": ["Same", "Changed"], "range": ["#000000", "#FF00FF"]}, "legend": null}
          }
        },
        {
          "width": 294, "height": 170, "title": "2012",
          "data": {"name": "d"},
          "transform": [{"filter": "datum.panel === 'party' && datum.year === 2012"}],
          "mark": {"type": "line", "strokeWidth": 2.1, "interpolate": "monotone", "clip": true},
          "encoding": {
            "x": {"field": "x", "type": "quantitative", "scale": {"domain": [-1.88, 2.44], "nice": false, "zero": false},
              "axis": {"title": "Change in Bureaucratic Quality", "titlePadding": 6, "values": [-1.5, -1, -0.5, 0, 0.5, 1, 1.5, 2], "labelExpr": "datum.value % 1 === 0 ? format(datum.value, 'd') : ''", "gridWidth": {"condition": {"test": "datum.value % 1 === 0", "value": 2.1}, "value": 1.05}}},
            "y": {"field": "ecdf", "type": "quantitative", "scale": {"domain": [-0.05, 1.05], "nice": false},
              "axis": {"title": null, "labels": false, "values": [0, 0.125, 0.25, 0.375, 0.5, 0.625, 0.75, 0.875, 1], "gridWidth": {"condition": {"test": "(datum.value * 8) % 2 === 0", "value": 2.1}, "value": 1.05}}},
            "color": {"field": "group", "type": "nominal", "scale": {"domain": ["Same", "Changed"], "range": ["#000000", "#FF00FF"]}, "legend": {"title": "Mayor's Party Affiliation"}}
          }
        },
        {
          "width": 288, "height": 170, "title": "2016",
          "data": {"name": "d"},
          "transform": [{"filter": "datum.panel === 'party' && datum.year === 2016"}],
          "mark": {"type": "line", "strokeWidth": 2.1, "interpolate": "monotone", "clip": true},
          "encoding": {
            "x": {"field": "x", "type": "quantitative", "scale": {"domain": [-1.88, 2.35], "nice": false, "zero": false},
              "axis": {"title": null, "values": [-1.5, -1, -0.5, 0, 0.5, 1, 1.5, 2], "labelExpr": "datum.value % 1 === 0 ? format(datum.value, 'd') : ''", "gridWidth": {"condition": {"test": "datum.value % 1 === 0", "value": 2.1}, "value": 1.05}}},
            "y": {"field": "ecdf", "type": "quantitative", "scale": {"domain": [-0.05, 1.05], "nice": false},
              "axis": {"title": null, "labels": false, "values": [0, 0.125, 0.25, 0.375, 0.5, 0.625, 0.75, 0.875, 1], "gridWidth": {"condition": {"test": "(datum.value * 8) % 2 === 0", "value": 2.1}, "value": 1.05}}},
            "color": {"field": "group", "type": "nominal", "scale": {"domain": ["Same", "Changed"], "range": ["#000000", "#FF00FF"]}, "legend": null}
          }
        }
      ]
    }
  ]
}
